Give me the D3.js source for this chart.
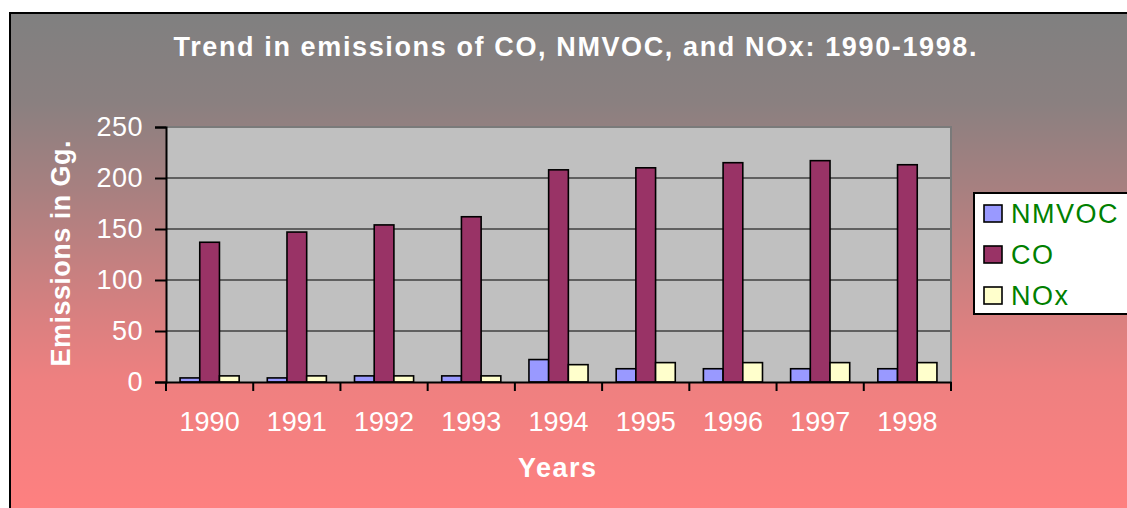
<!DOCTYPE html>
<html><head><meta charset="utf-8">
<script src="https://cdn.jsdelivr.net/npm/d3@7"></script>
<style>
html,body{margin:0;padding:0;background:#fff;overflow:hidden}
svg{display:block;font-family:"Liberation Sans",Arial,sans-serif}
</style></head>
<body>
<svg id="chart" width="1127" height="508"></svg>
<script>
const years = ["1990","1991","1992","1993","1994","1995","1996","1997","1998"];
const seriesNames = ["NMVOC","CO","NOx"];
const nmvoc = [4,4,6,6,22,13,13,13,13];
const co = [137,147,154,162,208,210,215,217,213];
const nox = [6,6,6,6,17,19,19,19,19];
const yTicks = [0,50,100,150,200,250];
const colors = ["#9999FF","#993366","#FFFFCC"];
const titleText = "Trend in emissions of CO, NMVOC, and NOx: 1990-1998.";
const yTitle = "Emissions in Gg.";
const xTitle = "Years";

const seriesVals = [nmvoc, co, nox];
const rows = years.map((y,i)=>({year:y, vals:seriesNames.map((s,j)=>({key:s, value:seriesVals[j][i], color:colors[j]}))}));

const svg = d3.select("#chart");
const defs = svg.append("defs");
const grad = defs.append("linearGradient").attr("id","bg").attr("gradientUnits","userSpaceOnUse")
  .attr("x1",0).attr("y1",13).attr("x2",0).attr("y2",508);
[[0,"#808080"],[0.18,"#8A8080"],[0.36,"#A88080"],[0.62,"#DA8080"],[0.74,"#EE8080"],[1,"#FE8080"]]
  .forEach(([o,c])=>grad.append("stop").attr("offset",o).attr("stop-color",c));

svg.append("rect").attr("x",10).attr("y",13).attr("width",1200).attr("height",600)
  .attr("fill","url(#bg)").attr("stroke","#000").attr("stroke-width",2);

const L=166, R=951, T=127, B=382;
const x0 = d3.scaleBand().domain(years).range([L,R]).paddingInner(0).paddingOuter(0);
const x1 = d3.scaleBand().domain(seriesNames).range([0,x0.bandwidth()]).paddingInner(0).paddingOuter(0.714);
const y = d3.scaleLinear().domain([0,250]).range([B,T]);

// plot area
svg.append("rect").attr("x",L).attr("y",T).attr("width",R-L).attr("height",B-T).attr("fill","#C0C0C0");
// gridlines
svg.append("g").selectAll("line").data(yTicks.filter(t=>t>0 && t<250)).join("line")
  .attr("x1",L).attr("x2",R).attr("y1",d=>y(d)).attr("y2",d=>y(d))
  .attr("stroke","#000").attr("stroke-width",1.2);
// top & right border (gray)
svg.append("path").attr("d",`M${L},${T}H${R}V${B}`).attr("fill","none").attr("stroke","#7a7a7a").attr("stroke-width",2);

// bars
const g = svg.append("g").selectAll("g").data(rows).join("g")
  .attr("transform",d=>`translate(${x0(d.year)},0)`);
g.selectAll("rect").data(d=>d.vals).join("rect")
  .attr("x",d=>x1(d.key)).attr("width",x1.bandwidth())
  .attr("y",d=>y(d.value)).attr("height",d=>B-y(d.value))
  .attr("fill",d=>d.color).attr("stroke","#000").attr("stroke-width",1.6);

// y axis
const yAxis = svg.append("g").attr("transform",`translate(${L},0)`)
  .call(d3.axisLeft(y).tickValues(yTicks).tickSize(11).tickPadding(12));
yAxis.select(".domain").attr("stroke","#000").attr("stroke-width",2);
yAxis.selectAll(".tick line").attr("stroke","#000").attr("stroke-width",2);
yAxis.selectAll(".tick text").attr("fill","#fff").attr("font-size",27).attr("font-family","Liberation Sans, Arial, sans-serif").attr("letter-spacing",0.5);

// x axis
const xAxis = svg.append("g").attr("transform",`translate(0,${B})`)
  .call(d3.axisBottom(x0).tickSize(0).tickPadding(0));
xAxis.select(".domain").attr("stroke","#000").attr("stroke-width",2);
xAxis.selectAll(".tick text").attr("fill","#fff").attr("font-size",27)
  .attr("font-family","Liberation Sans, Arial, sans-serif").attr("y",49).attr("dy",0);
// category boundary ticks
const bounds = years.map(d=>x0(d)).concat([x0(years[years.length-1])+x0.bandwidth()]);
svg.append("g").selectAll("line").data(bounds).join("line")
  .attr("x1",d=>d).attr("x2",d=>d).attr("y1",B).attr("y2",B+9)
  .attr("stroke","#000").attr("stroke-width",2);

// titles
svg.append("text").attr("x",575).attr("y",56).attr("text-anchor","middle")
  .attr("font-weight","bold").attr("font-size",27).attr("fill","#fff")
  .attr("textLength",803).attr("lengthAdjust","spacing").text(titleText);
svg.append("text").attr("transform","translate(70,253.5) rotate(-90)").attr("text-anchor","middle")
  .attr("font-weight","bold").attr("font-size",27).attr("fill","#fff")
  .attr("textLength",226).attr("lengthAdjust","spacing").text(yTitle);
svg.append("text").attr("x",557).attr("y",477).attr("text-anchor","middle")
  .attr("font-weight","bold").attr("font-size",27).attr("fill","#fff")
  .attr("textLength",78).attr("lengthAdjust","spacing").text(xTitle);

// legend
const lg = svg.append("g");
lg.append("rect").attr("x",974).attr("y",193).attr("width",200).attr("height",121)
  .attr("fill","#fff").attr("stroke","#000").attr("stroke-width",2);
const items = lg.selectAll("g").data(seriesNames.map((s,i)=>({s,c:colors[i]}))).join("g")
  .attr("transform",(d,i)=>`translate(0,${i*41})`);
items.append("rect").attr("x",984).attr("y",205).attr("width",18).attr("height",17)
  .attr("fill",d=>d.c).attr("stroke","#000").attr("stroke-width",1.6);
items.append("text").attr("x",1011).attr("y",223).attr("font-size",27).attr("fill","#008000")
  .attr("letter-spacing",1.5).text(d=>d.s);
</script>
</body></html>
